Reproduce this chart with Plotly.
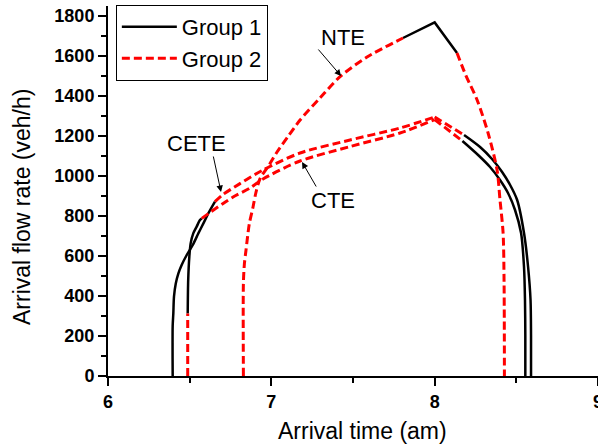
import plotly.graph_objects as go

# ---------------- data ----------------
# NTE scenario
nte_g2_left_x = [6.829, 6.829, 6.835, 6.845, 6.865, 6.888, 6.905, 6.93, 6.99, 7.035, 7.10, 7.176, 7.298, 7.421, 7.586, 7.806]
nte_g2_left_y = [0, 465, 560, 630, 760, 845, 915, 985, 1060, 1120, 1195, 1280, 1390, 1497, 1595, 1690]
nte_g1_x = [7.806, 8.0, 8.137]
nte_g1_y = [1690, 1768, 1615]
nte_g2_right_x = [8.137, 8.19, 8.26, 8.327, 8.382, 8.400, 8.419, 8.425, 8.427]
nte_g2_right_y = [1615, 1505, 1380, 1215, 1030, 880, 715, 465, 0]

# CETE scenario
cete_g1_left_x = [6.396, 6.396, 6.400, 6.404, 6.415, 6.431, 6.451, 6.482, 6.519, 6.553, 6.584, 6.614, 6.655]
cete_g1_left_y = [0, 250, 313, 397, 463, 513, 555, 605, 655, 713, 763, 813, 872]
cete_g2_rise_x = [6.655, 6.70, 6.808, 6.949, 7.176, 7.482, 7.788, 8.0]
cete_g2_rise_y = [872, 905, 962, 1030, 1115, 1180, 1240, 1295]
cete_g2_fall_x = [8.0, 8.18]
cete_g2_fall_y = [1295, 1205]
cete_g1_right_x = [8.18, 8.278, 8.351, 8.413, 8.462, 8.505, 8.547, 8.572, 8.587, 8.590, 8.590]
cete_g1_right_y = [1205, 1145, 1085, 1020, 955, 880, 715, 545, 380, 200, 0]

# CTE scenario
cte_g2_left_x = [6.488, 6.488]
cte_g2_left_y = [0, 313]
cte_g1_left_x = [6.488, 6.491, 6.498, 6.506, 6.522, 6.543, 6.563, 6.574]
cte_g1_left_y = [313, 480, 597, 663, 713, 747, 780, 788]
cte_g2_rise_x = [6.574, 6.62, 6.70, 6.766, 6.87, 6.949, 7.176, 7.482, 7.788, 8.0]
cte_g2_rise_y = [788, 815, 860, 895, 940, 985, 1075, 1147, 1215, 1282]
cte_g2_fall_x = [8.0, 8.17]
cte_g2_fall_y = [1282, 1175]
cte_g1_right_x = [8.17, 8.266, 8.339, 8.400, 8.449, 8.492, 8.529, 8.547, 8.553, 8.555, 8.555]
cte_g1_right_y = [1175, 1105, 1045, 980, 915, 830, 715, 545, 380, 200, 0]

group_names = ["Group 1", "Group 2"]
x_ticks = [6, 7, 8, 9]
y_ticks = [0, 200, 400, 600, 800, 1000, 1200, 1400, 1600, 1800]

# ---------------- figure ----------------
FONT = "Liberation Sans, Arial, sans-serif"
fig = go.Figure()

g1_segments = [(nte_g1_x, nte_g1_y, "linear"), (cete_g1_left_x, cete_g1_left_y, "spline"),
               (cete_g1_right_x, cete_g1_right_y, "spline"),
               (cte_g1_left_x, cte_g1_left_y, "spline"), (cte_g1_right_x, cte_g1_right_y, "spline")]
g2_segments = [(nte_g2_left_x, nte_g2_left_y, "spline"), (nte_g2_right_x, nte_g2_right_y, "spline"),
               (cete_g2_rise_x, cete_g2_rise_y, "spline"), (cete_g2_fall_x, cete_g2_fall_y, "linear"),
               (cte_g2_left_x, cte_g2_left_y, "linear"),
               (cte_g2_rise_x, cte_g2_rise_y, "spline"), (cte_g2_fall_x, cte_g2_fall_y, "linear")]

for i, (xs, ys, shp) in enumerate(g1_segments):
    fig.add_trace(go.Scatter(x=xs, y=ys, mode="lines",
                             line=dict(color="black", width=2.5, shape=shp, smoothing=0.8),
                             name=group_names[0], legendgroup="g1", showlegend=(i == 0)))
for i, (xs, ys, shp) in enumerate(g2_segments):
    fig.add_trace(go.Scatter(x=xs, y=ys, mode="lines",
                             line=dict(color="#ff0000", width=3, dash="8px,4px", shape=shp, smoothing=0.8),
                             name=group_names[1], legendgroup="g2", showlegend=(i == 0)))

TXT = dict(family=FONT, size=22, color="black")

# text labels
fig.add_annotation(x=7.439, y=1695, text="NTE", showarrow=False, font=TXT)
fig.add_annotation(x=6.539, y=1165, text="CETE", showarrow=False, font=TXT)
fig.add_annotation(x=7.378, y=880, text="CTE", showarrow=False, font=TXT)
# arrows
for (tx, ty, ax, ay) in [(7.427, 1500, -24, -28), (6.692, 920, -8, -37), (7.188, 1070, 15, 26)]:
    fig.add_annotation(x=tx, y=ty, ax=ax, ay=ay, text="", showarrow=True,
                       arrowhead=2, arrowsize=1.3, arrowwidth=1, arrowcolor="black")

# axis titles placed explicitly
fig.add_annotation(xref="paper", yref="paper", x=(22 - 108) / 490, y=(376 - 207) / 370,
                   xanchor="center", yanchor="middle",
                   text="Arrival flow rate (veh/h)", textangle=-90, showarrow=False,
                   font=dict(family=FONT, size=23, color="black"))
fig.add_annotation(xref="paper", yref="paper", x=(362 - 108) / 490, y=(376 - 431) / 370,
                   xanchor="center", yanchor="middle",
                   text="Arrival time (am)", showarrow=False,
                   font=dict(family=FONT, size=23, color="black"))

tickfont = dict(family=FONT, size=18, color="black", weight="bold")
fig.update_layout(
    width=598, height=448,
    margin=dict(l=108, r=0, t=6, b=72),
    paper_bgcolor="white", plot_bgcolor="white",
    showlegend=True,
    legend=dict(x=0.016, y=1.003, xanchor="left", yanchor="top",
                bordercolor="black", borderwidth=1, bgcolor="white",
                font=dict(family=FONT, size=22, color="black"),
                itemwidth=55, tracegroupgap=0),
    xaxis=dict(range=[6, 9], tickvals=x_ticks, ticktext=[str(v) for v in x_ticks],
               showgrid=False, zeroline=False, showline=True, linecolor="black", linewidth=2,
               ticks="outside", ticklen=8, tickwidth=2, tickcolor="black", tickfont=tickfont,
               ticklabeloverflow="allow",
               minor=dict(dtick=0.5, ticks="outside", ticklen=5, tickwidth=2, tickcolor="black"),
               automargin=False),
    yaxis=dict(range=[0, 1850], tickvals=y_ticks, ticktext=[str(v) for v in y_ticks],
               showgrid=False, zeroline=False, showline=True, linecolor="black", linewidth=2,
               ticks="outside", ticklen=8, tickwidth=2, tickcolor="black", tickfont=tickfont,
               minor=dict(dtick=100, ticks="outside", ticklen=5, tickwidth=2, tickcolor="black"),
               automargin=False),
)

fig.write_html("out.html")
